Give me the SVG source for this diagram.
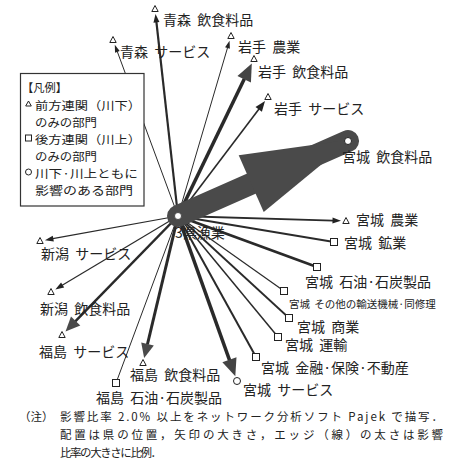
<svg xmlns="http://www.w3.org/2000/svg" xmlns:xlink="http://www.w3.org/1999/xlink" width="454" height="467" viewBox="0 0 454 467">
<style>
  text { font-family: "Noto Sans CJK JP", sans-serif; fill: #222; }
  .lbl { font-size: 14px; word-spacing: 3px; }
  .leg { font-size: 11.6px; }
  .note { font-size: 11.5px; }
  .e { stroke: #2a2a2a; fill: none; }
  .mk { fill: #fff; stroke: #222; stroke-width: 1; }
</style>
<defs>
  <marker id="ah-xs" markerUnits="userSpaceOnUse" orient="auto" overflow="visible" refX="0" refY="0" markerWidth="1" markerHeight="1"><path d="M-0.5,-2.5 L7,0 L-0.5,2.5 Z" fill="#222"/></marker>
  <marker id="ah-s" markerUnits="userSpaceOnUse" orient="auto" overflow="visible" refX="0" refY="0" markerWidth="1" markerHeight="1"><path d="M-0.5,-3 L8,0 L-0.5,3 Z" fill="#222"/></marker>
  <marker id="ah-m" markerUnits="userSpaceOnUse" orient="auto" overflow="visible" refX="0" refY="0" markerWidth="1" markerHeight="1"><path d="M-0.5,-4 L10,0 L-0.5,4 Z" fill="#222"/></marker>
  <marker id="ah-l" markerUnits="userSpaceOnUse" orient="auto" overflow="visible" refX="0" refY="0" markerWidth="1" markerHeight="1"><path d="M-0.5,-7.5 L17,0 L-0.5,7.5 Z" fill="#444"/></marker>
  <marker id="ah-l2" markerUnits="userSpaceOnUse" orient="auto" overflow="visible" refX="0" refY="0" markerWidth="1" markerHeight="1"><path d="M-0.5,-6.5 L14,0 L-0.5,6.5 Z" fill="#4a4a4a"/></marker>
  <path id="tri" class="mk" d="M0,-3.5 L3.2,2.5 L-3.2,2.5 Z"/>
  <rect id="sq" class="mk" x="-3.5" y="-3.5" width="7" height="7"/>
  <circle id="ci" class="mk" r="3.5"/>
</defs>

<g id="connectors">
  <line class="e" x1="178" y1="216" x2="156.4" y2="21.9" stroke-width="2.2" marker-end="url(#ah-s)"/>
  <line class="e" x1="178" y1="216" x2="117.2" y2="51.3" stroke-width="1" marker-end="url(#ah-xs)"/>
  <line class="e" x1="178" y1="216" x2="227.6" y2="47.5" stroke-width="1" marker-end="url(#ah-xs)"/>
  <line class="e" x1="178" y1="216" x2="244.4" y2="78.8" stroke-width="3.5" stroke="#333" marker-end="url(#ah-l)"/>
  <line class="e" x1="178" y1="216" x2="259.0" y2="109.0" stroke-width="1.6" marker-end="url(#ah-m)"/>
  <line class="e" x1="178" y1="216" x2="333.0" y2="220.6" stroke-width="1.8" marker-end="url(#ah-s)"/>
  <line class="e" x1="178" y1="216" x2="334" y2="242" stroke-width="1.8"/>
  <line class="e" x1="178" y1="216" x2="317" y2="267" stroke-width="2.8"/>
  <line class="e" x1="178" y1="216" x2="284" y2="291" stroke-width="1.2"/>
  <line class="e" x1="178" y1="216" x2="289" y2="318" stroke-width="1.8"/>
  <line class="e" x1="178" y1="216" x2="278" y2="337" stroke-width="1.5"/>
  <line class="e" x1="178" y1="216" x2="256" y2="357" stroke-width="2"/>
  <line class="e" x1="178" y1="216" x2="229.6" y2="360.3" stroke-width="3.5" stroke="#3a3a3a" marker-end="url(#ah-l)"/>
  <line class="e" x1="178" y1="216" x2="116" y2="383" stroke-width="1"/>
  <line class="e" x1="178" y1="216" x2="147.4" y2="344.5" stroke-width="3" stroke="#3a3a3a" marker-end="url(#ah-l2)"/>
  <line class="e" x1="178" y1="216" x2="75.3" y2="321.4" stroke-width="2.5" marker-end="url(#ah-l2)"/>
  <line class="e" x1="178" y1="216" x2="62.2" y2="285.3" stroke-width="1.2" marker-end="url(#ah-s)"/>
  <line class="e" x1="178" y1="216" x2="52.8" y2="238.7" stroke-width="1.2" marker-end="url(#ah-s)"/>
  <!-- big arrow to 宮城 飲食料品 -->
  <line x1="178" y1="216" x2="348" y2="141" stroke="#4a4a4a" stroke-width="22" stroke-linecap="round"/>
  <polygon points="238.7,155.3 263.7,212.1 351.7,139.4" fill="#4a4a4a"/>
</g>

<g id="n-aomori-food"><use xlink:href="#tri" x="155" y="9"/><text class="lbl" x="163" y="25">青森 飲食料品</text></g>
<g id="n-aomori-serv"><use xlink:href="#tri" x="113" y="40"/><text class="lbl" x="120" y="57">青森 サービス</text></g>
<g id="n-iwate-agri"><use xlink:href="#tri" x="231" y="36"/><text class="lbl" x="238" y="52">岩手 農業</text></g>
<g id="n-iwate-food"><use xlink:href="#tri" x="254" y="59"/><text class="lbl" x="258" y="77">岩手 飲食料品</text></g>
<g id="n-iwate-serv"><use xlink:href="#tri" x="268" y="97"/><text class="lbl" x="274" y="114">岩手 サービス</text></g>
<g id="n-miyagi-food"><use xlink:href="#ci" x="348" y="141"/><text class="lbl" x="342" y="162">宮城 飲食料品</text></g>
<g id="n-miyagi-agri"><use xlink:href="#tri" x="346" y="221"/><text class="lbl" x="356" y="225">宮城 農業</text></g>
<g id="n-miyagi-mining"><use xlink:href="#sq" x="334" y="242"/><text class="lbl" x="344" y="248">宮城 鉱業</text></g>
<g id="n-miyagi-petro"><use xlink:href="#sq" x="317" y="267"/><text class="lbl" x="305" y="287">宮城 石油·石炭製品</text></g>
<g id="n-miyagi-transeq"><use xlink:href="#sq" x="284" y="291"/><text class="lbl" x="289" y="308" style="font-size:10.5px;word-spacing:2px">宮城 その他の輸送機械·同修理</text></g>
<g id="n-miyagi-commerce"><use xlink:href="#sq" x="289" y="318"/><text class="lbl" x="297" y="332">宮城 商業</text></g>
<g id="n-miyagi-transport"><use xlink:href="#sq" x="278" y="337"/><text class="lbl" x="285" y="350">宮城 運輸</text></g>
<g id="n-miyagi-finance"><use xlink:href="#sq" x="256" y="357"/><text class="lbl" x="261" y="373">宮城 金融·保険·不動産</text></g>
<g id="n-miyagi-serv"><use xlink:href="#ci" x="237" y="381"/><text class="lbl" x="243" y="395">宮城 サービス</text></g>
<g id="n-fukushima-petro"><use xlink:href="#sq" x="116" y="383"/><text class="lbl" x="96" y="403">福島 石油·石炭製品</text></g>
<g id="n-fukushima-food"><use xlink:href="#tri" x="143" y="363"/><text class="lbl" x="130" y="380">福島 飲食料品</text></g>
<g id="n-fukushima-serv"><use xlink:href="#tri" x="62" y="335"/><text class="lbl" x="39" y="357">福島 サービス</text></g>
<g id="n-niigata-food"><use xlink:href="#tri" x="51" y="292"/><text class="lbl" x="40" y="314">新潟 飲食料品</text></g>
<g id="n-niigata-serv"><use xlink:href="#tri" x="40" y="241"/><text class="lbl" x="41" y="259">新潟 サービス</text></g>
<g id="n-hub"><circle cx="178" cy="216" r="3.5" fill="#fff" stroke="#333" stroke-width="0.8"/><text class="lbl" x="175" y="238">3県漁業</text></g>

<g id="legend">
  <rect x="20.5" y="73.5" width="123.5" height="132.5" fill="#fff" stroke="#333" stroke-width="1.2"/>
  <path class="mk" d="M28.5,101 L31.3,106 L25.7,106 Z"/>
  <rect class="mk" x="25.5" y="135" width="6" height="6"/>
  <circle class="mk" cx="28.5" cy="172" r="3"/>
  <text class="leg" x="22" y="92" textLength="45" lengthAdjust="spacingAndGlyphs">【凡例】</text>
  <text class="leg" x="35" y="110" textLength="106" lengthAdjust="spacingAndGlyphs">前方連関（川下）</text>
  <text class="leg" x="35" y="127" textLength="62" lengthAdjust="spacingAndGlyphs">のみの部門</text>
  <text class="leg" x="35" y="144" textLength="106" lengthAdjust="spacingAndGlyphs">後方連関（川上）</text>
  <text class="leg" x="35" y="161" textLength="62" lengthAdjust="spacingAndGlyphs">のみの部門</text>
  <text class="leg" x="35" y="178" textLength="103" lengthAdjust="spacingAndGlyphs">川下·川上ともに</text>
  <text class="leg" x="35" y="195" textLength="98" lengthAdjust="spacingAndGlyphs">影響のある部門</text>
</g>

<g id="note">
  <text class="note" x="19" y="421">（注）</text>
  <text class="note" x="60" y="421" textLength="383" lengthAdjust="spacing">影響比率 2.0% 以上をネットワーク分析ソフト Pajek で描写．</text>
  <text class="note" x="60" y="439" textLength="383" lengthAdjust="spacing">配置は県の位置，矢印の大きさ，エッジ（線）の太さは影響</text>
  <text class="note" x="60" y="457" textLength="102" lengthAdjust="spacing">比率の大きさに比例．</text>
</g>
</svg>
